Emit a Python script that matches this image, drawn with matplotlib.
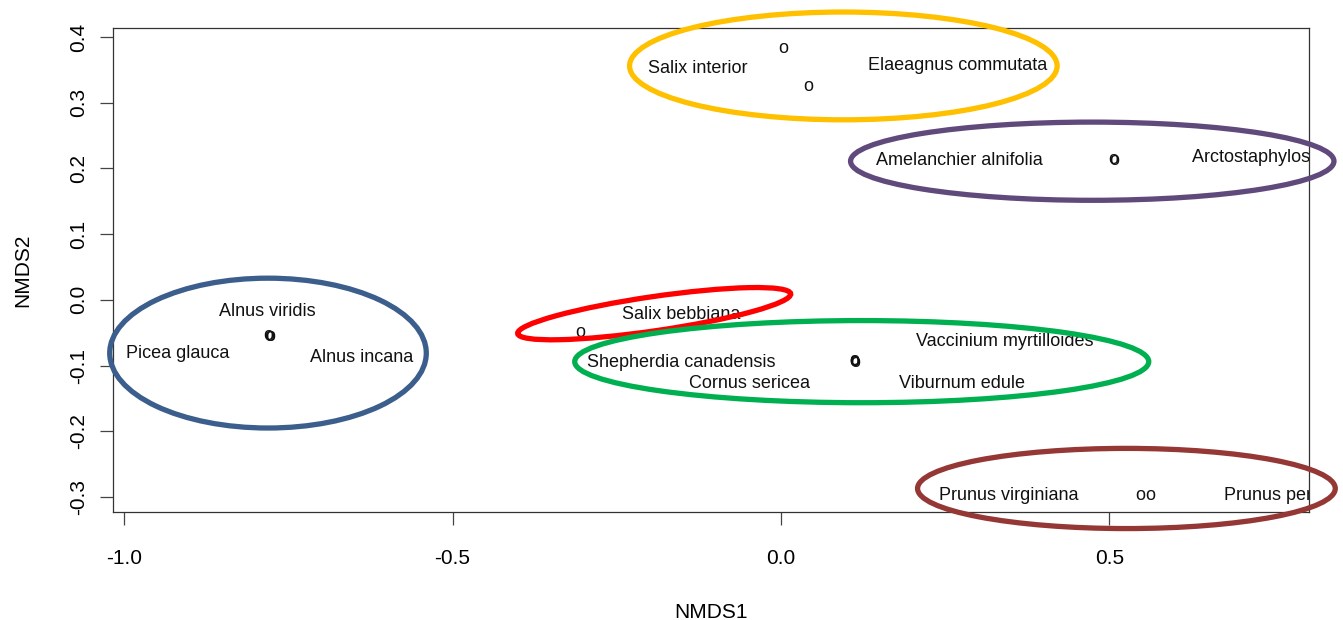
import matplotlib
matplotlib.use('Agg')
import matplotlib.pyplot as plt
from matplotlib.patches import Ellipse

plt.rcParams['font.family'] = ['Liberation Sans', 'DejaVu Sans']

# species scores (NMDS) and where the names were written
species = ['Salix interior', 'Elaeagnus commutata', 'Amelanchier alnifolia',
           'Arctostaphylos uva-ursi', 'Alnus viridis', 'Picea glauca',
           'Alnus incana', 'Salix bebbiana', 'Shepherdia canadensis',
           'Cornus sericea', 'Vaccinium myrtilloides', 'Viburnum edule',
           'Prunus virginiana', 'Prunus pensylvanica']
nmds1 = [0.003, 0.042, 0.506, 0.508, -0.779, -0.780, -0.778, -0.306,
         0.112, 0.113, 0.111, 0.112, 0.547, 0.562]
nmds2 = [0.382, 0.325, 0.213, 0.212, -0.055, -0.054, -0.055, -0.050,
         -0.094, -0.095, -0.093, -0.094, -0.297, -0.297]
label_x = [-0.127, 0.269, 0.272, 0.769, -0.782, -0.918, -0.638, -0.152,
           -0.152, -0.048, 0.340, 0.275, 0.347, 0.801]
label_y = [0.352, 0.356, 0.212, 0.217, -0.018, -0.081, -0.088, -0.023,
           -0.096, -0.127, -0.064, -0.127, -0.298, -0.298]

# group ellipses
grp_x = [0.095, 0.474, -0.781, -0.193, 0.123, 0.526]
grp_y = [0.356, 0.211, -0.081, -0.021, -0.094, -0.287]
grp_w = [0.651, 0.736, 0.482, 0.420, 0.874, 0.636]
grp_h = [0.164, 0.119, 0.228, 0.052, 0.125, 0.122]
grp_angle = [0, 0, 0, 8.3, 0, 0]
grp_colors = ['#FFC000', '#604A7B', '#3B5E8C', '#FF0000', '#00B050', '#953735']

fig = plt.figure(figsize=(13.43, 6.2), dpi=100)
ax = fig.add_axes([113 / 1343, 108 / 620, 1196 / 1343, 484 / 620])

ax.set_xlim(-1.017, 0.804)
ax.set_ylim(-0.3228, 0.4137)

# points drawn as letter "o" like R pch="o"
for x, y in zip(nmds1, nmds2):
    ax.text(x, y, 'o', fontsize=13, ha='center', va='center', color='#111111',
            clip_on=True)

for name, x, y in zip(species, label_x, label_y):
    ax.text(x, y, name, fontsize=13, ha='center', va='center', color='#111111',
            clip_on=True)

for x, y, w, h, a, c in zip(grp_x, grp_y, grp_w, grp_h, grp_angle, grp_colors):
    ax.add_patch(Ellipse((x, y), w, h, angle=a, fill=False, edgecolor=c,
                         linewidth=3.8, clip_on=False, zorder=3))

ax.set_xticks([-1.0, -0.5, 0.0, 0.5])
ax.set_xticklabels(['-1.0', '-0.5', '0.0', '0.5'])
yt = [-0.3, -0.2, -0.1, 0.0, 0.1, 0.2, 0.3, 0.4]
ax.set_yticks(yt)
ax.set_yticklabels(['%.1f' % v for v in yt], rotation=90, va='center')

ax.tick_params(axis='both', direction='out', length=9.5, width=0.9,
               color='#444444', labelsize=15)
ax.tick_params(axis='x', pad=17)
ax.tick_params(axis='y', pad=8.3)

for s in ax.spines.values():
    s.set_color('#333333')
    s.set_linewidth(0.9)

ax.set_xlabel('NMDS1', fontsize=15, labelpad=25)
ax.set_ylabel('NMDS2', fontsize=15, labelpad=27)

fig.savefig('out.png', dpi=100)
